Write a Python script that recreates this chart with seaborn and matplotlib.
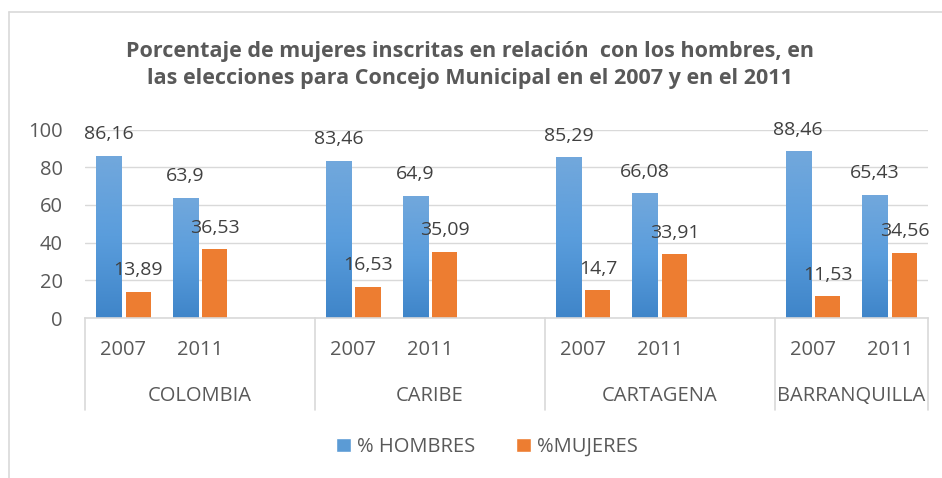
import numpy as np
import pandas as pd
import matplotlib
matplotlib.use("Agg")
import matplotlib.pyplot as plt
import seaborn as sns
from matplotlib.colors import LinearSegmentedColormap
from matplotlib.lines import Line2D
from matplotlib.patches import Patch
import matplotlib.transforms as mtransforms

# data
regions = ["COLOMBIA", "CARIBE", "CARTAGENA", "BARRANQUILLA"]
years = ["2007", "2011"]
hombres = [86.16, 63.9, 83.46, 64.9, 85.29, 66.08, 88.46, 65.43]
mujeres = [13.89, 36.53, 16.53, 35.09, 14.7, 33.91, 11.53, 34.56]
series = ["% HOMBRES", "%MUJERES"]

title = ("Porcentaje de mujeres inscritas en relación  con los hombres, en\n"
         "las elecciones para Concejo Municipal en el 2007 y en el 2011")

sns.set_theme(style="white")
plt.rcParams["font.family"] = ["Open Sans", "DejaVu Sans"]

# one row per bar; an empty slot after each region except the last
rows = []
order = []
for i, reg in enumerate(regions):
    for j, yr in enumerate(years):
        key = f"{reg} {yr}"
        order.append(key)
        rows.append({"cat": key, "serie": series[0], "valor": hombres[i * 2 + j]})
        rows.append({"cat": key, "serie": series[1], "valor": mujeres[i * 2 + j]})
    if i < len(regions) - 1:
        order.append(f"blank{i}")
df = pd.DataFrame(rows)

W, H = 942, 478
fig = plt.figure(figsize=(W / 100, H / 100), dpi=100)
ax = fig.add_axes([85 / W, 1 - 318 / H, (928 - 85) / W, (318 - 129.5) / H])

blue = "#5b9bd5"
orange = "#ed7d31"
sns.barplot(data=df, x="cat", y="valor", hue="serie", order=order,
            hue_order=series, palette=[blue, orange], width=0.77, gap=0.15,
            ax=ax, legend=False, saturation=1, edgecolor="none")

ax.set_ylim(0, 100)
ax.set_xlim(-0.5, len(order) - 0.5)
ax.set_yticks([0, 20, 40, 60, 80, 100])
ax.yaxis.grid(True, color="#d9d9d9", lw=1)
ax.set_axisbelow(True)
for s in ["left", "right", "top"]:
    ax.spines[s].set_visible(False)
ax.spines["bottom"].set_color("#d9d9d9")
ax.spines["bottom"].set_linewidth(1.2)
ax.tick_params(axis="y", length=0, pad=16, labelsize=14.5, labelcolor="#595959")
ax.set_xticks([])
ax.set_xlabel("")
ax.set_ylabel("")

# gradient on the blue bars
cmap = LinearSegmentedColormap.from_list("b", ["#3f85c9", "#5a9ddc", "#72a8dc"])
grad = np.linspace(0, 1, 256).reshape(-1, 1)
for p in ax.containers[0]:
    x, w, h = p.get_x(), p.get_width(), p.get_height()
    im = ax.imshow(grad, extent=[x, x + w, 0, h], origin="lower",
                   aspect="auto", cmap=cmap, zorder=2.1)
    im.set_clip_path(p)
ax.set_xlim(-0.5, len(order) - 0.5)
ax.set_ylim(0, 100)

# data labels with decimal comma
for cont, vals in zip(ax.containers, [hombres, mujeres]):
    ax.bar_label(cont, labels=[str(v).replace(".", ",") for v in vals],
                 padding=9, fontsize=14, color="#404040")

# two level category axis
trans = mtransforms.blended_transform_factory(ax.transData, ax.transAxes)
ah = 318 - 129.5
for k, key in enumerate(order):
    if key.startswith("blank"):
        continue
    ax.text(k, -32 / ah, key.split()[-1], transform=trans, ha="center",
            va="center", fontsize=14.5, color="#595959", clip_on=False)

starts = [0, 3, 6, 9]
ends = [2, 5, 8, 10]
for reg, a, b in zip(regions, starts, ends):
    ax.text((a + b) / 2, -78 / ah, reg, transform=trans, ha="center",
            va="center", fontsize=14.5, color="#595959", clip_on=False)
for xs in [-0.5, 2.5, 5.5, 8.5, 10.5]:
    ax.add_line(Line2D([xs, xs], [0, -92 / ah], transform=trans,
                       color="#d9d9d9", lw=1.2, clip_on=False))

fig.text(470 / W, 1 - 65 / H, title, ha="center", va="center",
         fontsize=15.5, fontweight="bold", color="#595959", linespacing=1.4)

# chart border
fig.add_artist(Line2D([9 / W, 9 / W], [0, 1 - 12 / H], color="#d9d9d9", lw=1.2))
fig.add_artist(Line2D([9 / W, 1], [1 - 12 / H, 1 - 12 / H], color="#d9d9d9", lw=1.2))

handles = [Patch(facecolor=blue), Patch(facecolor=orange)]
fig.legend(handles, series, loc="center", bbox_to_anchor=(487 / W, 1 - 447 / H),
           ncol=2, frameon=False, handlelength=0.75, handleheight=0.75,
           handletextpad=0.3, columnspacing=2.0,
           prop={"size": 14.5}, labelcolor="#595959")

fig.savefig("out.png", dpi=100)
